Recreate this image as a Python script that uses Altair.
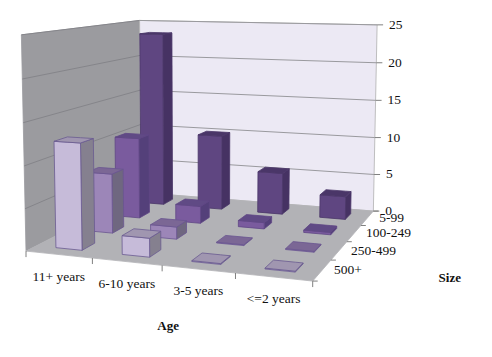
import altair as alt
import numpy as np
import pandas as pd

ages = ["11+ years", "6-10 years", "3-5 years", "<=2 years"]
sizes = ["500+", "250-499", "100-249", "5-99"]  # front to back
v_500 = [12.6, 2.2, 0.1, 0.1]
v_250 = [7.4, 1.5, 0.1, 0.1]
v_100 = [10.5, 2.2, 0.8, 0.3]
v_5 = [23.5, 10.0, 5.5, 3.0]
values = [v_500, v_250, v_100, v_5]
z_ticks = [0, 5, 10, 15, 20, 25]
ZMAX = 25.0

# colours per size: front, side, top, stroke
palette = [
    ("#C6BBD9", "#85808F", "#A096B0", "#6A5B90"),
    ("#9C86B8", "#6F6780", "#7B6795", "#6A5590"),
    ("#7A5B9E", "#54407A", "#604A85", "#5F4685"),
    ("#5F4681", "#463263", "#4A3668", "#4A3668"),
]

# Box corners (age axis, size axis, height) seen in the picture
model = [(0, 0, 0), (1, 0, 0), (1, 1, 0), (0, 1, 0), (0, 0, 1), (0, 1, 1), (1, 1, 1)]
seen = [(27, 252), (312, 281), (374, 211), (140, 192), (21, 34), (140, 21), (377, 25)]
A = []
for (a, b, c), (u, v) in zip(model, seen):
    A.append([a, b, c, 1, 0, 0, 0, 0, -u * a, -u * b, -u * c, -u])
    A.append([0, 0, 0, 0, a, b, c, 1, -v * a, -v * b, -v * c, -v])
P = np.linalg.svd(np.array(A, float))[2][-1].reshape(3, 4)


def pr(a, b, c=0.0):
    h = P @ np.array([a, b, c, 1.0])
    return (float(h[0] / h[2]), float(h[1] / h[2]))


def poly_rows(pts, pid, fill, stroke):
    xs = sorted({round(p[0], 3) for p in pts})
    n = len(pts)
    rows = []
    for x in xs:
        ys = []
        for i in range(n):
            (x1, y1), (x2, y2) = pts[i], pts[(i + 1) % n]
            lo, hi = min(x1, x2), max(x1, x2)
            if lo - 0.002 <= x <= hi + 0.002:
                if abs(x2 - x1) < 1e-6:
                    ys += [y1, y2]
                else:
                    t = min(1, max(0, (x - x1) / (x2 - x1)))
                    ys.append(y1 + t * (y2 - y1))
        rows.append(dict(x=x, y=min(ys), y2=max(ys), pid=pid, fill=fill, stroke=stroke))
    return rows


walls, solids, pid = [], [], 0
for pts, col, st in [
    ([pr(0, 0, 0), pr(0, 1, 0), pr(0, 1, 1), pr(0, 0, 1)], "#9B9B9F", "#9B9B9F"),
    ([pr(0, 1, 0), pr(1, 1, 0), pr(1, 1, 1), pr(0, 1, 1)], "#ECE9F4", "#B0B0B0"),
]:
    walls += poly_rows(pts, pid, col, st)
    pid += 1
solids += poly_rows([pr(0, 0), pr(1, 0), pr(1, 1), pr(0, 1)], pid, "#B2B2B6", "#B2B2B6")
pid += 1

for row in range(3, -1, -1):
    front, side, top, st = palette[row]
    for col in range(4):
        a0, a1 = (col + 0.3) / 4, (col + 0.7) / 4
        b0, b1 = (row + 0.3) / 4, (row + 0.7) / 4
        z = values[row][col] / ZMAX
        for pts, c in [
            ([pr(a1, b0, 0), pr(a1, b1, 0), pr(a1, b1, z), pr(a1, b0, z)], side),
            ([pr(a0, b0, 0), pr(a1, b0, 0), pr(a1, b0, z), pr(a0, b0, z)], front),
            ([pr(a0, b0, z), pr(a1, b0, z), pr(a1, b1, z), pr(a0, b1, z)], top),
        ]:
            solids += poly_rows(pts, pid, c, st)
            pid += 1

lines, ticks = [], []
for i, t in enumerate(z_ticks):
    z = t / ZMAX
    if t > 0:
        for a, b in [pr(0, 0, z), pr(0, 1, z)], [pr(0, 1, z), pr(1, 1, z)]:
            col = "#85858A" if a[0] < 139 else "#9A9A9E"
            lines += [dict(x=a[0], y=a[1], pid=f"g{t}{col}", c=col), dict(x=b[0], y=b[1], pid=f"g{t}{col}", c=col)]
    p = pr(1, 1, z)
    ticks += [dict(x=p[0], y=p[1], pid=f"z{i}", c="#808080"), dict(x=p[0] + 6, y=p[1], pid=f"z{i}", c="#808080")]
for i in range(5):
    p = pr(i / 4, 0)
    ticks += [dict(x=p[0], y=p[1], pid=f"a{i}", c="#808080"), dict(x=p[0], y=p[1] + 6, pid=f"a{i}", c="#808080")]
    p = pr(1, i / 4)
    ticks += [dict(x=p[0], y=p[1], pid=f"b{i}", c="#808080"), dict(x=p[0] + 5, y=p[1], pid=f"b{i}", c="#808080")]
lines = sorted(lines, key=lambda r: r["x"])

labels = []
for t in z_ticks:
    p = pr(1, 1, t / ZMAX)
    labels.append(dict(x=p[0] + 12, y=p[1], t=str(t), w="normal", a="left"))
for i, s in enumerate(ages):
    p = pr((i + 0.5) / 4, 0)
    labels.append(dict(x=p[0], y=p[1] + 22, t=s, w="normal", a="center"))
for i, s in enumerate(sizes):
    p = pr(1, (i + 0.5) / 4)
    labels.append(dict(x=p[0] + 12, y=p[1], t=s, w="normal", a="left"))
p = pr(0.5, 0)
labels.append(dict(x=p[0] + 6, y=p[1] + 61, t="Age", w="bold", a="center"))
p = pr(1, 0.5)
labels.append(dict(x=p[0] + 103, y=p[1] + 36, t="Size", w="bold", a="center"))

X = alt.X("x:Q", scale=alt.Scale(domain=[8, 484]), axis=None)
Y = alt.Y("y:Q", scale=alt.Scale(domain=[349, 8]), axis=None, stack=None)


def area_layer(rows):
    return alt.Chart(pd.DataFrame(rows)).mark_area(orient="vertical", strokeWidth=0.8).encode(
        x=X, y=Y, y2="y2:Q", detail="pid:N",
        fill=alt.Fill("fill:N", scale=None), stroke=alt.Stroke("stroke:N", scale=None),
    )


def line_layer(rows, w):
    return alt.Chart(pd.DataFrame(rows)).mark_line(strokeWidth=w).encode(
        x=X, y=Y, detail="pid:N", color=alt.Color("c:N", scale=None),
    )


text_layers = []
for a in ["left", "center"]:
    for w in ["normal", "bold"]:
        sub = [r for r in labels if r["a"] == a and r["w"] == w]
        if sub:
            text_layers.append(
                alt.Chart(pd.DataFrame(sub)).mark_text(
                    font="Liberation Serif", fontSize=13.5 if w == "normal" else 13, color="#111111",
                    baseline="middle", align=a, fontWeight=w,
                ).encode(x=X, y=Y, text="t:N")
            )

chart = alt.layer(
    area_layer(walls), line_layer(lines, 1), area_layer(solids), line_layer(ticks, 1), *text_layers
).properties(
    width=476, height=341, padding=0, autosize=alt.AutoSizeParams(type="none"), background="white"
).configure_view(stroke=None)

chart.save("out.html", embed_options={"renderer": "svg", "actions": False})
